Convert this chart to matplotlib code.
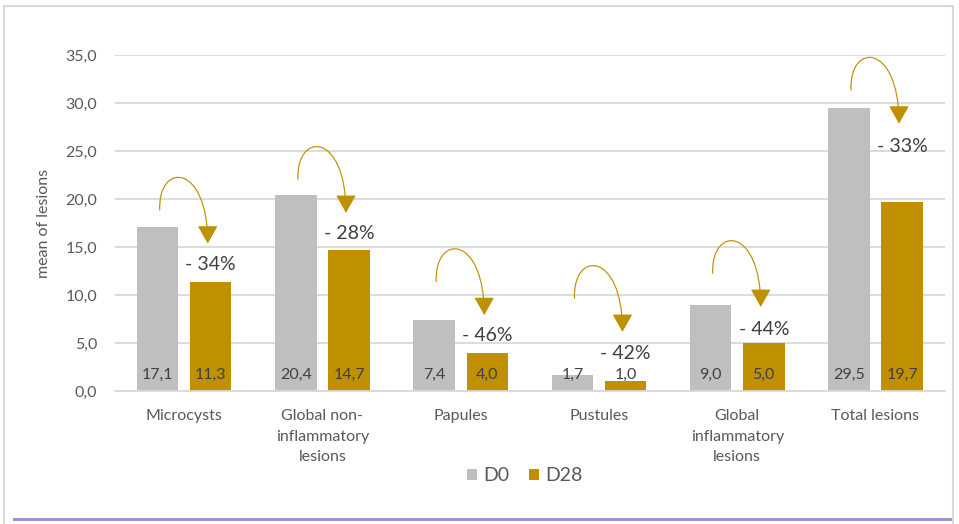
import numpy as np
import matplotlib.pyplot as plt
from matplotlib.lines import Line2D
from matplotlib.patches import FancyArrowPatch
from matplotlib.path import Path

plt.rcParams['font.family'] = ['Lato', 'DejaVu Sans']

# mean lesion counts at day 0 and day 28
categories = ["Microcysts", "Global non-\ninflammatory\nlesions", "Papules",
              "Pustules", "Global\ninflammatory\nlesions", "Total lesions"]
d0 = [17.1, 20.4, 7.4, 1.7, 9.0, 29.5]
d28 = [11.3, 14.7, 4.0, 1.0, 5.0, 19.7]
changes = ["- 34%", "- 28%", "- 46%", "- 42%", "- 44%", "- 33%"]

# where the change text and the curved arrows sit (y, in lesions)
change_y = [13.2, 16.35, 5.75, 3.85, 6.45, 25.5]
arc_start = [18.85, 22.05, 11.4, 9.65, 12.25, 31.35]

grey = "#BFBFBF"
gold = "#BF9000"
txt = "#595959"

fig = plt.figure(figsize=(9.59, 5.24), dpi=100)
ax = fig.add_axes([0.12, 0.254, 0.865, 0.641])

x = np.arange(len(categories))
w = 0.3
off = 0.192
ax.bar(x - off, d0, w, color=grey, label="D0", zorder=2)
ax.bar(x + off, d28, w, color=gold, label="D28", zorder=2)

# values written near the bottom of each bar
for i in range(len(x)):
    ax.text(x[i] - off, 1.65, f"{d0[i]:.1f}".replace(".", ","), ha="center", va="center",
            fontsize=11.5, color="#404040", zorder=3)
    ax.text(x[i] + off, 1.65, f"{d28[i]:.1f}".replace(".", ","), ha="center", va="center",
            fontsize=11.5, color="#404040", zorder=3)
    ax.text(x[i] + off, change_y[i], changes[i], ha="center", va="center",
            fontsize=14, color="#404040", zorder=3)

    # curved arrow from D0 over to D28
    x0 = x[i] - off + 0.015
    x1 = x[i] + off - 0.022
    y0 = arc_start[i]
    h = 5.0
    verts = [(x0, y0), (x0 - 0.015, y0 + h), (x1, y0 + h), (x1, y0 - 3.5)]
    codes = [Path.MOVETO, Path.CURVE4, Path.CURVE4, Path.CURVE4]
    arr = FancyArrowPatch(path=Path(verts, codes),
                          arrowstyle="-|>,head_length=0.8,head_width=0.45",
                          mutation_scale=14, color=gold, lw=0.85,
                          clip_on=False, zorder=4)
    ax.add_patch(arr)

ax.set_xlim(-0.5, 5.5)
ax.set_ylim(0, 35)
ax.set_yticks(np.arange(0, 36, 5))
ax.set_yticklabels([f"{v:.1f}".replace(".", ",") for v in np.arange(0, 36, 5)])
ax.set_xticks(x)
ax.set_xticklabels(categories, linespacing=1.6)
ax.tick_params(axis="both", length=0, labelsize=11.5, colors=txt)
ax.tick_params(axis="y", pad=13, labelsize=11.5)
ax.tick_params(axis="x", pad=13)
for lbl in ax.get_xticklabels():
    lbl.set_verticalalignment("top")

ax.grid(axis="y", color="#D9D9D9", lw=1.3, zorder=0)
ax.set_axisbelow(True)
for s in ["top", "right", "left"]:
    ax.spines[s].set_visible(False)
ax.spines["bottom"].set_color("#D9D9D9")
ax.spines["bottom"].set_linewidth(1.3)

ax.set_ylabel("mean of lesions", fontsize=11.5, color=txt, labelpad=10)

leg = fig.legend(loc="center", bbox_to_anchor=(0.547, 0.092), ncol=2, frameon=False,
                 fontsize=14, handlelength=0.55, handleheight=0.55, handletextpad=0.3,
                 columnspacing=1.0)
for t in leg.get_texts():
    t.set_color(txt)

# frame around the figure and the rule underneath
fig.add_artist(Line2D([4 / 959, 4 / 959], [0, 1 - 6 / 524], transform=fig.transFigure,
                      color="#D9D9D9", lw=1.5))
fig.add_artist(Line2D([4 / 959, 953 / 959], [1 - 6 / 524, 1 - 6 / 524], transform=fig.transFigure,
                      color="#D9D9D9", lw=1.5))
fig.add_artist(Line2D([953 / 959, 953 / 959], [0, 1 - 6 / 524], transform=fig.transFigure,
                      color="#D9D9D9", lw=1.5))
fig.add_artist(Line2D([14 / 959, 950 / 959], [5 / 524, 5 / 524], transform=fig.transFigure,
                      color="#9E94CC", lw=2.2))

fig.savefig("out.png", dpi=100)
